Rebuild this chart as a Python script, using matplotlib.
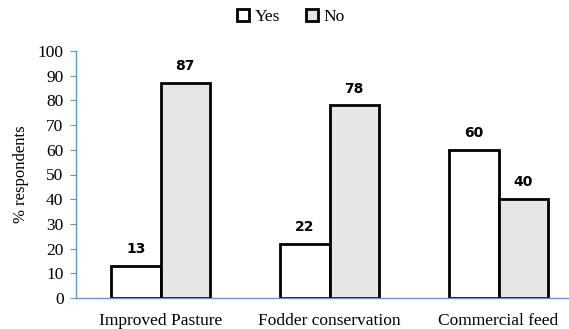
import matplotlib
matplotlib.use('Agg')
import matplotlib.pyplot as plt
import numpy as np

categories = ['Improved Pasture', 'Fodder conservation', 'Commercial feed']
yes_vals = [13, 22, 60]
no_vals = [87, 78, 40]
series_names = ['Yes', 'No']
yticks = list(range(0, 101, 10))

serif = 'Liberation Serif'
axis_blue = '#5B9BD5'

fig = plt.figure(figsize=(5.69, 3.29), dpi=100)
ax = fig.add_axes([76 / 569, 31 / 329, 507 / 569, 247 / 329])

x = np.arange(len(categories))
w = 0.29
b1 = ax.bar(x - w / 2, yes_vals, w, color='white', edgecolor='black',
            linewidth=2.0, label=series_names[0])
b2 = ax.bar(x + w / 2, no_vals, w, color='#E7E6E6', edgecolor='black',
            linewidth=2.0, label=series_names[1])

# value labels above bars
for bars, vals in ((b1, yes_vals), (b2, no_vals)):
    for r, v in zip(bars, vals):
        ax.annotate(str(v), (r.get_x() + r.get_width() / 2, v),
                    xytext=(0, 7), textcoords='offset points',
                    ha='center', va='bottom', fontsize=10,
                    fontweight='bold', family='DejaVu Sans')

ax.set_xlim(-0.5, len(categories) - 0.5)
ax.set_ylim(0, 100)
ax.set_yticks(yticks)
ax.set_xticks(x)
ax.set_xticklabels(categories, family=serif, fontsize=12.5)
ax.set_yticklabels([str(t) for t in yticks], family=serif, fontsize=12.5)
ax.tick_params(axis='x', length=0, pad=11)
ax.tick_params(axis='y', length=4, color=axis_blue, direction='out', pad=5)

for s in ['top', 'right']:
    ax.spines[s].set_visible(False)
for s in ['left', 'bottom']:
    ax.spines[s].set_color(axis_blue)
    ax.spines[s].set_linewidth(1.0)

ax.set_ylabel('% respondents', family=serif, fontsize=12, labelpad=6)

fig.legend(handles=[b1, b2], labels=series_names, loc='center',
           bbox_to_anchor=(291 / 569, 1 - 17 / 329), ncol=2, frameon=False,
           prop={'family': serif, 'size': 12.5}, handlelength=0.7,
           handleheight=0.7, handletextpad=0.3, columnspacing=1.5)

fig.savefig('out.png', dpi=100)
